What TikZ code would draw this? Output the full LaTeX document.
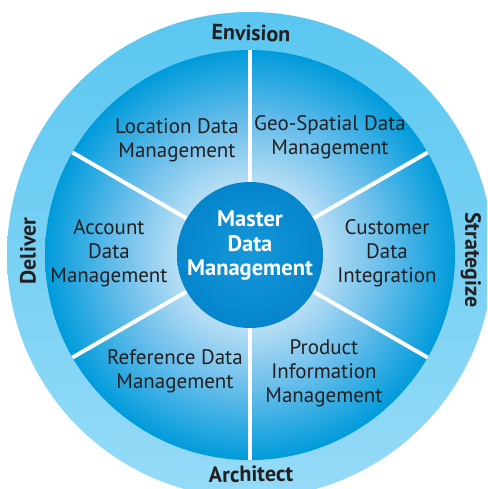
\documentclass[tikz,border=0pt]{standalone}
\usepackage{fontspec}
\setmainfont{PT Sans}
\definecolor{ringtop}{HTML}{5AC7F1}
\definecolor{ringbot}{HTML}{96DBF7}
\definecolor{wA}{HTML}{D6EDFA}
\definecolor{wB}{HTML}{C0E2F6}
\definecolor{wC}{HTML}{6CBFEB}
\definecolor{wD}{HTML}{009BDB}
\definecolor{hubin}{HTML}{1698D9}
\definecolor{hubout}{HTML}{0585CC}
\definecolor{txt}{HTML}{231F20}
\pgfdeclareradialshading{wheelshade}{\pgfpoint{0bp}{0bp}}{color(0bp)=(wA); color(8bp)=(wB); color(16bp)=(wC); color(25bp)=(wD); color(50bp)=(wD)}
\pgfdeclareradialshading{hubshade}{\pgfpoint{0bp}{0bp}}{color(0bp)=(hubin); color(25bp)=(hubout); color(50bp)=(hubout)}
\tikzset{
  seglabel/.style={text=txt, align=center, font=\fontsize{21}{23.8}\selectfont, inner sep=0pt},
  ringlabel/.style={text=txt, font=\bfseries\fontsize{22}{24}\selectfont, inner sep=0pt},
  hublabel/.style={text=white, align=center, font=\bfseries\fontsize{22.5}{24.5}\selectfont, inner sep=0pt},
  spoke/.style={white, line width=4pt}
}
\begin{document}
\begin{tikzpicture}[x=1pt,y=-1pt]
\useasboundingbox (0,0) rectangle (487,489);
\clip (0,0) rectangle (487,489);
\fill[white] (0,0) rectangle (487,489);
\coordinate (c) at (250,255);
% outer ring
\shade[top color=ringtop, bottom color=ringbot] (c) circle[radius=243];
% wheel
\shade[shading=wheelshade] (c) circle[radius=205];
% spokes
\foreach \a in {30,90,150,210,270,330}
  \draw[spoke] (c) -- ++(\a:205);
% hub
\node[circle, minimum size=146pt, inner sep=0pt, shading=hubshade] (hub) at (c) {};
\node[hublabel] (hubtxt) at (250,246) {Master\\Data\\Management};
% segment labels
\node[seglabel] (loc) at (177,140) {Location Data\\Management};
\node[seglabel] (geo) at (330,137) {Geo-Spatial Data\\Management};
\node[seglabel] (acc) at (109,253) {Account\\Data\\Management};
\node[seglabel] (cust) at (387,253) {Customer\\Data\\Integration};
\node[seglabel] (ref) at (175,371) {Reference Data\\Management};
\node[seglabel] (prod) at (324,373) {Product\\Information\\Management};
% ring labels
\node[ringlabel, rotate=-2] (env) at (251,33) {Envision};
\node[ringlabel, rotate=90] (del) at (28,251) {Deliver};
\node[ringlabel, rotate=-90] (str) at (471,260) {Strategize};
\node[ringlabel, rotate=1] (arc) at (251,474) {Architect};
\end{tikzpicture}
\end{document}
